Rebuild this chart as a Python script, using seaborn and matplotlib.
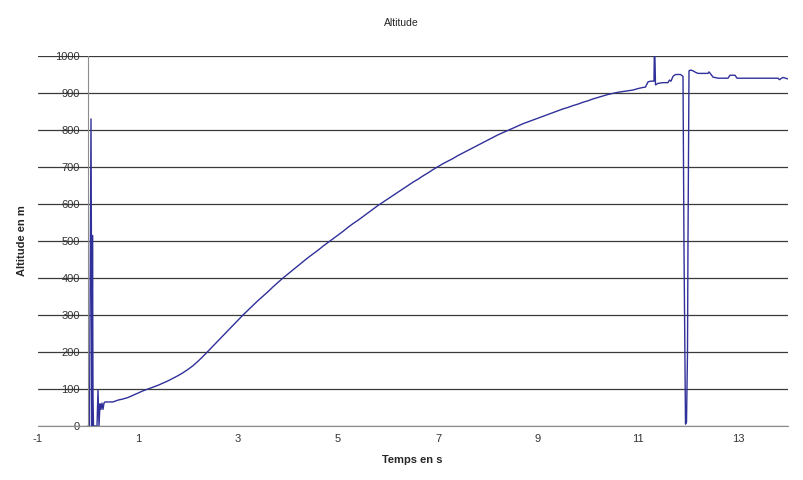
import numpy as np
import pandas as pd
import matplotlib
matplotlib.use("Agg")
import matplotlib.pyplot as plt
import seaborn as sns

# Phase de lancement (pics de mesure au départ)
temps_lancement = [0.0, 0.03, 0.06, 0.08, 0.09, 0.10, 0.11, 0.18, 0.20, 0.22,
                   0.24, 0.26, 0.28, 0.30, 0.32, 0.34]
alt_lancement = [0, 0, 830, 0, 515, 80, 0, 0, 97, 0,
                 60, 45, 62, 45, 62, 65]

# Montée
temps_montee = [0.4, 0.5, 0.6, 0.7, 0.8, 0.9, 1.0, 1.1, 1.2, 1.3,
                1.4, 1.5, 1.6, 1.7, 1.8, 1.9, 2.0, 2.1, 2.2, 2.3,
                2.4, 2.5, 2.6, 2.7, 2.8, 2.9, 3.0, 3.1, 3.2, 3.3,
                3.4, 3.5, 3.6, 3.7, 3.8, 3.9, 4.0, 4.1, 4.2, 4.3,
                4.4, 4.5, 4.6, 4.7, 4.8, 4.9, 5.0, 5.1, 5.2, 5.3,
                5.4, 5.5, 5.6, 5.7, 5.8, 5.9, 6.0, 6.1, 6.2, 6.3,
                6.4, 6.5, 6.6, 6.7, 6.8, 6.9, 7.0, 7.1, 7.2, 7.3,
                7.4, 7.5, 7.6, 7.7, 7.8, 7.9, 8.0, 8.1, 8.2, 8.3,
                8.4, 8.5, 8.6, 8.7, 8.8, 8.9, 9.0, 9.1, 9.2, 9.3,
                9.4, 9.5, 9.6, 9.7, 9.8, 9.9, 10.0, 10.1, 10.2, 10.3,
                10.4, 10.5, 10.6, 10.7, 10.8, 10.9]
alt_montee = [65, 65, 70, 73, 77, 83, 89, 95, 100, 105,
              110, 116, 122, 129, 136, 144, 153, 163, 175, 188,
              202, 216, 230, 244, 258, 272, 286, 300, 313, 326,
              339, 351, 363, 376, 388, 400, 411, 422, 433, 444,
              455, 465, 475, 486, 496, 506, 516, 526, 537, 547,
              556, 566, 576, 586, 596, 605, 614, 623, 632, 641,
              650, 659, 667, 676, 684, 693, 701, 709, 716, 723,
              731, 738, 745, 752, 759, 766, 773, 780, 787, 793,
              799, 805, 811, 817, 822, 827, 832, 837, 842, 847,
              852, 857, 861, 866, 870, 875, 879, 884, 888, 892,
              896, 899, 902, 904, 906, 908]

# Apogée
temps_apogee = [11.0, 11.1, 11.15, 11.2, 11.25, 11.32, 11.33, 11.35, 11.4, 11.5,
                11.6, 11.63, 11.66, 11.7, 11.75, 11.85, 11.9, 11.92, 11.95, 11.97,
                11.99, 12.0, 12.02, 12.05, 12.1, 12.15, 12.2, 12.3, 12.4, 12.42,
                12.45, 12.5, 12.6, 12.8, 12.84, 12.94, 12.98, 13.2, 13.5, 13.8,
                13.83, 13.87, 13.9, 14.0, 14.04]
alt_apogee = [912, 915, 916, 930, 932, 932, 1050, 922, 926, 928,
              928, 935, 932, 945, 950, 950, 945, 480, 5, 10,
              200, 500, 960, 962, 960, 956, 953, 953, 953, 957,
              952, 943, 940, 940, 948, 948, 940, 940, 940, 940,
              936, 940, 942, 938, 940]

df = pd.DataFrame({
    "temps": temps_lancement + temps_montee + temps_apogee,
    "altitude": alt_lancement + alt_montee + alt_apogee,
})

sns.set_style("white")
plt.rcParams["font.family"] = ["Liberation Sans", "DejaVu Sans"]
plt.rcParams["axes.unicode_minus"] = False

fig = plt.figure(figsize=(8.04, 4.8), dpi=100)
ax = fig.add_axes([38 / 804, 1 - 426 / 480, 750 / 804, 370 / 480])

sns.lineplot(data=df, x="temps", y="altitude", ax=ax, estimator=None, sort=False,
             color="#30309a", linewidth=1)

ax.set_xlim(-1, 14)
ax.set_ylim(0, 1000)
ax.set_xticks(np.arange(-1, 14, 2))
ax.set_yticks(np.arange(0, 1001, 100))
ax.grid(axis="y", color="#3a3a3a", linewidth=0.9)
ax.grid(axis="x", visible=False)
ax.set_axisbelow(True)

for s in ["top", "right"]:
    ax.spines[s].set_visible(False)
ax.spines["left"].set_position(("data", 0))
ax.spines["left"].set_color("#8c8c8c")
ax.spines["bottom"].set_color("#8c8c8c")
ax.tick_params(axis="both", labelsize=8, colors="#333333", length=3, width=0.8, direction="out", pad=3)
ax.tick_params(axis="y", color="#8c8c8c")

ax.set_xlabel("")
ax.set_ylabel("")
fig.text(401 / 804, 1 - 23 / 480, "Altitude", ha="center", va="center", fontsize=7.5)
fig.text(412 / 804, 1 - 460 / 480, "Temps en s", ha="center", va="center", fontsize=8, fontweight="bold")
fig.text(22 / 804, 1 - 241 / 480, "Altitude en m", ha="center", va="center", rotation=90, fontsize=8, fontweight="bold")

fig.savefig("out.png", dpi=100, facecolor="white")
